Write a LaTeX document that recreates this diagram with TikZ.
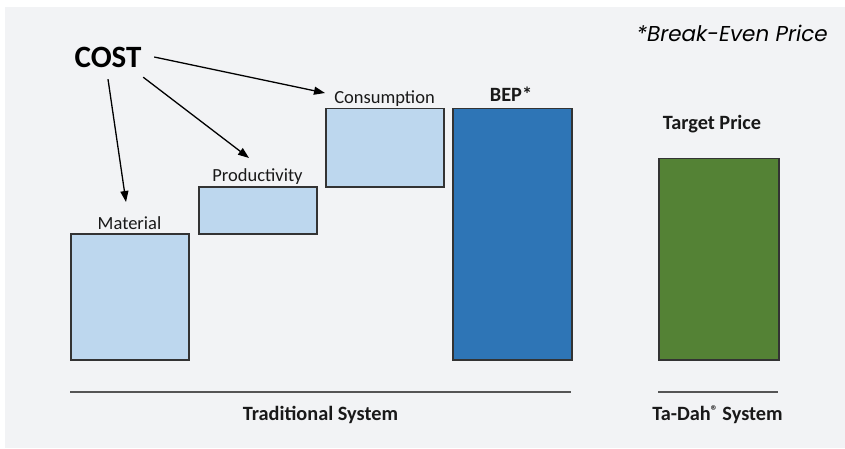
\documentclass[tikz,border=0pt]{standalone}
\usepackage{fontspec}
\setmainfont{Carlito}
\newfontfamily\notefont{Poppins}
\usetikzlibrary{arrows.meta,calc}
\definecolor{panel}{HTML}{F2F3F5}
\definecolor{lightbar}{HTML}{BDD7EE}
\definecolor{darkbar}{HTML}{2E75B6}
\definecolor{greenbar}{HTML}{548235}
\definecolor{edge}{HTML}{333333}
\definecolor{rule}{HTML}{555555}
\tikzset{
  bar/.style={draw=edge, line width=1.5pt, anchor=north west, inner sep=0pt},
  lbl/.style={anchor=base, inner sep=0pt, font=\fontsize{18.5}{20}\selectfont, text=black!90},
  blbl/.style={anchor=base, inner sep=0pt, font=\fontsize{20.3}{22}\selectfont\bfseries, text=black!90},
  arr/.style={-{Triangle[length=11pt,width=8pt]}, line width=1.3pt, black},
  axisline/.style={draw=rule, line width=2.5pt}
}
\begin{document}
\begin{tikzpicture}[x=1pt,y=-1pt]
\useasboundingbox (0,0) rectangle (845,449);
\fill[white] (0,0) rectangle (845,449);
\fill[panel] (5,7) rectangle (845,448);
% bars
\node[bar, fill=lightbar, minimum width=118pt, minimum height=126pt] (material) at (70,233) {};
\node[bar, fill=lightbar, minimum width=118pt, minimum height=47pt] (productivity) at (198,186) {};
\node[bar, fill=lightbar, minimum width=118pt, minimum height=78pt] (consumption) at (325,108) {};
\node[bar, fill=darkbar, minimum width=119pt, minimum height=251pt] (bep) at (452,108) {};
\node[bar, fill=greenbar, minimum width=120pt, minimum height=201pt] (target) at (658,158) {};
% labels
\node[lbl] (lmaterial) at (129.5,229) {Material};
\node[lbl] (lproductivity) at (257.5,182) {Productivity};
\node[lbl] (lconsumption) at (384.5,103.5) {Consumption};
\node[blbl] (lbep) at (511,102) {BEP*};
\node[blbl] (ltarget) at (712,130) {Target Price};
\node[anchor=base east, inner sep=0pt, font=\notefont\itshape\fontsize{21.5}{23}\selectfont] (note) at (828,42) {*Break-Even Price};
% cost
\node[minimum width=92pt, minimum height=44pt, inner sep=0pt, font=\fontsize{31}{34}\selectfont\bfseries] (cost) at (108,57) {COST};
\coordinate (tmaterial) at (126,202);
\coordinate (tproductivity) at (249,158);
\coordinate (tconsumption) at (325,93);
\draw[arr] (cost.south) -- (tmaterial);
\draw[arr] ($(cost.south east)+(-11,-2)$) -- (tproductivity);
\draw[arr] (cost.east) -- (tconsumption);
% axes
\coordinate (a1) at (70,392);
\coordinate (a2) at (571,392);
\coordinate (b1) at (658,392);
\coordinate (b2) at (778,392);
\draw[axisline] (a1) -- (a2);
\draw[axisline] (b1) -- (b2);
\node[blbl] (ltadah) at (717.5,420) {Ta-Dah\raisebox{4.5pt}{\fontsize{14}{14}\selectfont ®} System};
\node[blbl] (ltrad) at (320.5,420) {Traditional System};
\end{tikzpicture}
\end{document}
